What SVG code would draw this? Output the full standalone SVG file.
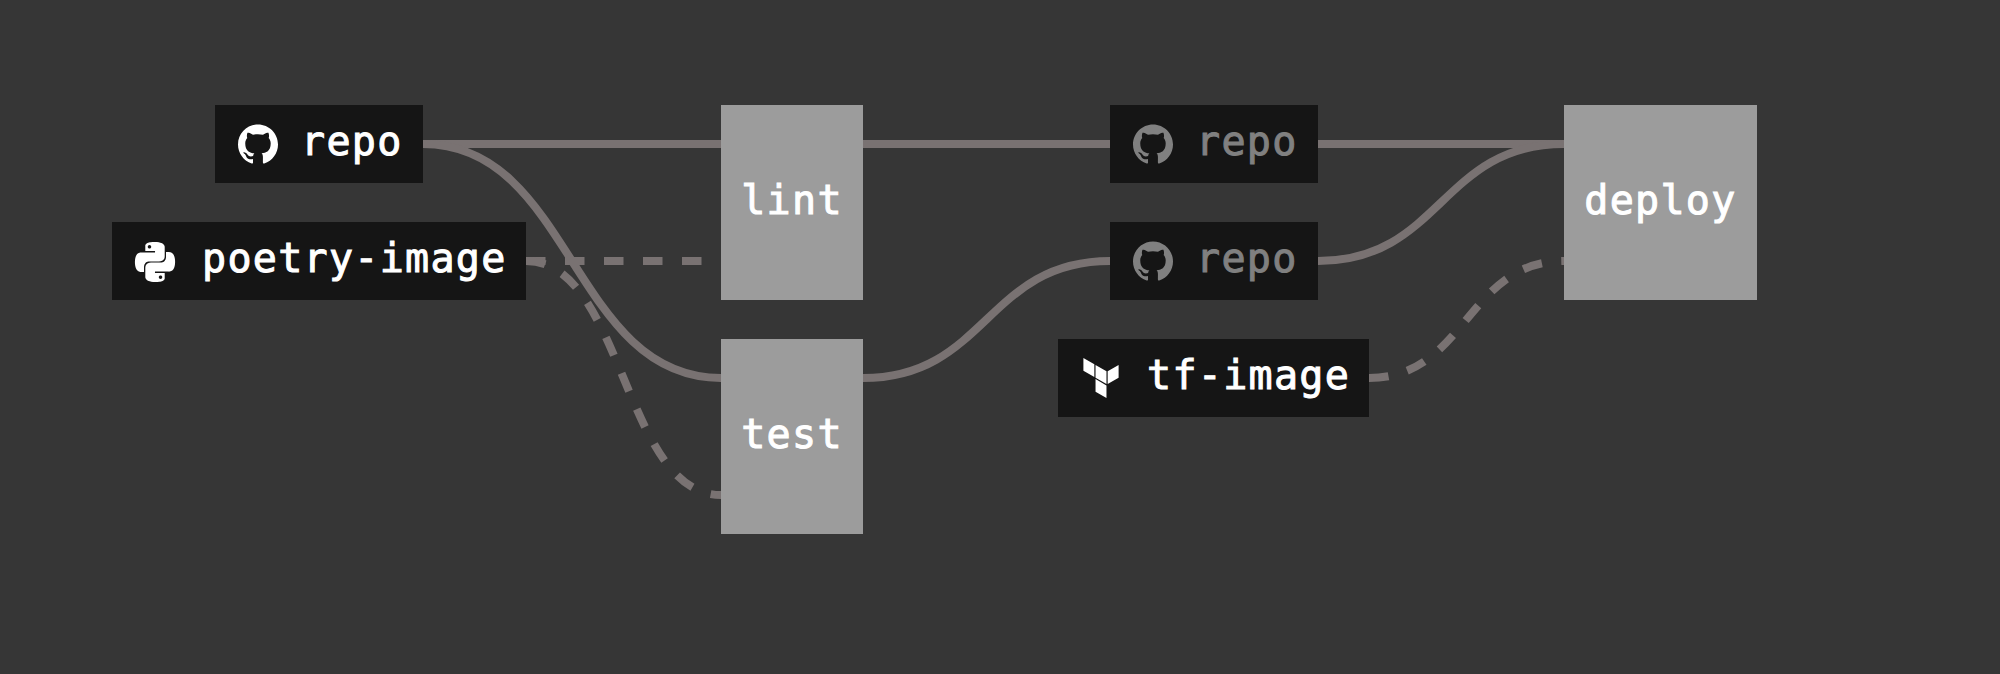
<svg xmlns="http://www.w3.org/2000/svg" width="2000" height="674" viewBox="0 0 2000 674">
<style>
.bg{fill:#363636}
.src{fill:#151515}
.job{fill:#9c9c9c}
.t{font-family:"DejaVu Sans Mono","Liberation Mono",monospace;font-size:40px;letter-spacing:1.3px;fill:#fff;stroke:#fff;stroke-width:1px}
.dim{fill:#808080;stroke:#808080}
.ic{fill:#fff}
.icd{fill:#808080}
.l{fill:none;stroke:#797272;stroke-width:8}
.d{stroke-dasharray:19.5 19.5}
</style>
<defs>
<path id="gh" d="M12 .297c-6.63 0-12 5.373-12 12 0 5.303 3.438 9.8 8.205 11.385.6.113.82-.258.82-.577 0-.285-.01-1.04-.015-2.04-3.338.724-4.042-1.61-4.042-1.61C4.422 18.07 3.633 17.7 3.633 17.7c-1.087-.744.084-.729.084-.729 1.205.084 1.838 1.236 1.838 1.236 1.07 1.835 2.809 1.305 3.495.998.108-.776.417-1.305.76-1.605-2.665-.3-5.466-1.332-5.466-5.93 0-1.31.465-2.38 1.235-3.22-.135-.303-.54-1.523.105-3.176 0 0 1.005-.322 3.3 1.23.96-.267 1.98-.399 3-.405 1.02.006 2.04.138 3 .405 2.28-1.552 3.285-1.23 3.285-1.23.645 1.653.24 2.873.12 3.176.765.84 1.23 1.91 1.23 3.22 0 4.61-2.805 5.625-5.475 5.92.42.36.81 1.096.81 2.22 0 1.606-.015 2.896-.015 3.286 0 .315.21.69.825.57C20.565 22.092 24 17.592 24 12.297c0-6.627-5.373-12-12-12"/>
</defs>
<rect class="bg" width="2000" height="674"/>
<g id="connectors">
<path class="l" d="M423 144H721"/>
<path class="l" d="M423 144C572 144 572 378 721 378"/>
<path class="l d" d="M526 261H721"/>
<path class="l d" d="M526 261C623.5 261 623.5 495 721 495"/>
<path class="l" d="M863 144H1110"/>
<path class="l" d="M863 378C986.5 378 986.5 261 1110 261"/>
<path class="l" d="M1318 144H1564"/>
<path class="l" d="M1318 261C1441 261 1441 144 1564 144"/>
<path class="l d" d="M1369 378C1466.5 378 1466.5 261 1564 261"/>
</g>
<g id="repo-source"><rect class="src" x="215" y="105" width="208" height="78"/><use href="#gh" class="ic" transform="translate(238 124) scale(1.667)"/><text class="t" x="301" y="155">repo</text></g>
<g id="poetry-image"><rect class="src" x="112" y="222" width="414" height="78"/><path class="ic" transform="translate(135 242) scale(1.667)" d="M14.25.18l.9.2.73.26.59.3.45.32.34.34.25.34.16.33.1.3.04.26.02.2-.01.13V8.5l-.05.63-.13.55-.21.46-.26.38-.3.31-.33.25-.35.19-.35.14-.33.1-.3.07-.26.04-.21.02H8.77l-.69.05-.59.14-.5.22-.41.27-.33.32-.27.35-.2.36-.15.37-.1.35-.07.32-.04.27-.02.21v3.06H3.17l-.21-.03-.28-.07-.32-.12-.35-.18-.36-.26-.36-.36-.35-.46-.32-.59-.28-.73-.21-.88-.14-1.05-.05-1.23.06-1.22.16-1.04.24-.87.32-.71.36-.57.4-.44.42-.33.42-.24.4-.16.36-.1.32-.05.24-.01h.16l.06.01h8.16v-.83H6.18l-.01-2.75-.02-.37.05-.34.11-.31.17-.28.25-.26.31-.23.38-.2.44-.18.51-.15.58-.12.64-.1.71-.06.77-.04.84-.02 1.27.05zm-6.3 1.98l-.23.33-.08.41.08.41.23.34.33.22.41.09.41-.09.33-.22.23-.34.08-.41-.08-.41-.23-.33-.33-.22-.41-.09-.41.09zm13.09 3.95l.28.06.32.12.35.18.36.27.36.35.35.47.32.59.28.73.21.88.14 1.04.05 1.23-.06 1.23-.16 1.04-.24.86-.32.71-.36.57-.4.45-.42.33-.42.24-.4.16-.36.09-.32.05-.24.02-.16-.01h-8.22v.82h5.84l.01 2.76.02.36-.05.34-.11.31-.17.29-.25.25-.31.24-.38.2-.44.17-.51.15-.58.13-.64.09-.71.07-.77.04-.84.01-1.27-.04-1.07-.14-.9-.2-.73-.25-.59-.3-.45-.33-.34-.34-.25-.34-.16-.33-.1-.3-.04-.25-.02-.2.01-.13v-5.34l.05-.64.13-.54.21-.46.26-.38.3-.32.33-.24.35-.2.35-.14.33-.1.3-.06.26-.04.21-.02.13-.01h5.84l.69-.05.59-.14.5-.21.41-.28.33-.32.27-.35.2-.36.15-.36.1-.35.07-.32.04-.28.02-.21V6.07h2.09l.14.01zm-6.47 14.25l-.23.33-.08.41.08.41.23.33.33.23.41.08.41-.08.33-.23.23-.33.08-.41-.08-.41-.23-.33-.33-.23-.41-.08-.41.08z"/><text class="t" x="202" y="272">poetry-image</text></g>
<g id="lint"><rect class="job" x="721" y="105" width="142" height="195"/><text class="t" x="792" y="214" text-anchor="middle">lint</text></g>
<g id="test"><rect class="job" x="721" y="339" width="142" height="195"/><text class="t" x="792" y="448" text-anchor="middle">test</text></g>
<g id="repo-lint"><rect class="src" x="1110" y="105" width="208" height="78"/><use href="#gh" class="icd" transform="translate(1133 124) scale(1.667)"/><text class="t dim" x="1196" y="155">repo</text></g>
<g id="repo-test"><rect class="src" x="1110" y="222" width="208" height="78"/><use href="#gh" class="icd" transform="translate(1133 241) scale(1.667)"/><text class="t dim" x="1196" y="272">repo</text></g>
<g id="tf-image"><rect class="src" x="1058" y="339" width="311" height="78"/><path class="ic" transform="translate(1081 358) scale(1.667)" d="M1.44 0v7.575l6.561 3.79V3.787zm21.12 4.227l-6.561 3.791v7.574l6.56-3.787zM8.72 4.23v7.575l6.561 3.787V8.018zm0 8.405v7.575L15.28 24v-7.578z"/><text class="t" x="1147" y="389">tf-image</text></g>
<g id="deploy"><rect class="job" x="1564" y="105" width="193" height="195"/><text class="t" x="1660.5" y="214" text-anchor="middle">deploy</text></g>
</svg>
